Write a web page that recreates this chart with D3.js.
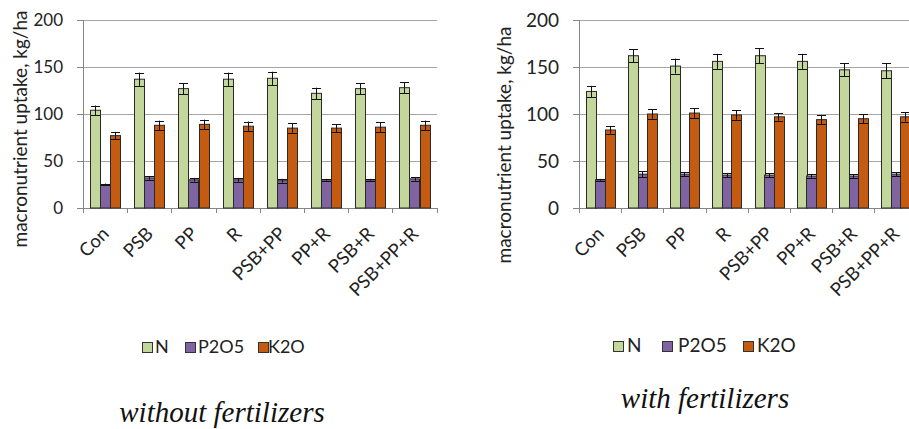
<!DOCTYPE html>
<meta charset="utf-8">
<style>
  body { margin: 0; background: #fff; }
  svg text { font-family: Lato, "Open Sans", sans-serif; fill: #222; }
  svg text.caption { font-family: "Liberation Serif", "Times New Roman", Times, serif; font-style: italic; fill: #111; }
  .grid line { stroke: #a6a6a6; shape-rendering: crispEdges; }
  .axis path, .axis line { stroke: #868686; shape-rendering: crispEdges; }
</style>
<body>
<svg width="909" height="429"></svg>
<script src="https://d3js.org/d3.v7.min.js"></script>
<script>
// treatments and nutrients
var categories = ["Con", "PSB", "PP", "R", "PSB+PP", "PP+R", "PSB+R", "PSB+PP+R"];
var nutrients = ["N", "P2O5", "K2O"];
var yTicks = [0, 50, 100, 150, 200];

// without fertilizers (kg/ha) and error bars
var withoutN = [104, 137, 127, 137, 138, 122, 127, 128];
var withoutNErr = [5, 7, 6, 7, 7, 6, 6, 6];
var withoutP = [25, 32, 30, 30, 29, 30, 30, 31];
var withoutPErr = [1, 2, 2, 2, 2, 1, 1, 2];
var withoutK = [77, 88, 89, 87, 85, 85, 86, 88];
var withoutKErr = [4, 5, 5, 5, 5, 4, 5, 5];

// with fertilizers
var withN = [124, 162, 151, 156, 162, 156, 147, 146];
var withNErr = [6, 7, 8, 8, 8, 8, 7, 8];
var withP = [30, 36, 36, 35, 35, 34, 34, 36];
var withPErr = [1, 3, 2, 2, 2, 2, 2, 2];
var withK = [83, 100, 101, 99, 97, 94, 95, 97];
var withKErr = [4, 5, 5, 5, 4, 5, 5, 5];

var colors = { "N": "#c3d69b", "P2O5": "#8064a2", "K2O": "#c55a11" };

var svg = d3.select("svg");

function drawChart(cfg, vals, errs) {
  var g = svg.append("g");
  var y = d3.scaleLinear().domain([0, 200]).range([208, 20]);
  var x0 = d3.scaleBand().domain(categories)
      .range([cfg.left, cfg.left + cfg.step * categories.length])
      .paddingInner(0.32).paddingOuter(0.16);
  var x1 = d3.scaleBand().domain(nutrients).range([0, x0.bandwidth()]);

  // gridlines
  g.append("g").attr("class", "grid")
    .selectAll("line").data(yTicks.slice(1)).enter().append("line")
      .attr("x1", cfg.left).attr("x2", cfg.left + cfg.step * categories.length)
      .attr("y1", function(d) { return Math.round(y(d)) + 0.5; })
      .attr("y2", function(d) { return Math.round(y(d)) + 0.5; });

  // y axis
  var yAxis = g.append("g").attr("class", "axis")
    .attr("transform", "translate(" + cfg.left + ",0)")
    .call(d3.axisLeft(y).tickValues(yTicks).tickSize(6).tickPadding(cfg.tickPad));
  yAxis.select(".domain").attr("d", "M0.5," + y(200) + "V" + y(0));
  yAxis.selectAll("text").style("font-size", cfg.tickFont + "px").attr("fill", "#222");

  // x axis with ticks between groups
  var xEdges = d3.range(categories.length + 1).map(function(i) { return cfg.left + i * cfg.step; });
  var xa = g.append("g").attr("class", "axis");
  xa.append("line").attr("x1", cfg.left).attr("x2", cfg.left + cfg.step * categories.length)
    .attr("y1", y(0) + 0.5).attr("y2", y(0) + 0.5);
  xa.selectAll(".tk").data(xEdges).enter().append("line").attr("class", "tk")
    .attr("x1", function(d) { return Math.round(d) + 0.5; })
    .attr("x2", function(d) { return Math.round(d) + 0.5; })
    .attr("y1", y(0)).attr("y2", y(0) + 5);

  xa.selectAll(".lbl").data(categories).enter().append("text").attr("class", "lbl")
    .attr("transform", function(d) {
      return "translate(" + (x0(d) + x0.bandwidth() / 2 + cfg.lblDx) + "," + cfg.lblY + ") rotate(-45)";
    })
    .attr("text-anchor", "end")
    .style("font-size", cfg.lblFont + "px")
    .text(function(d) { return d; });

  // bars
  var rows = [];
  nutrients.forEach(function(n, k) {
    categories.forEach(function(c, i) {
      rows.push({ cat: c, nut: n, v: vals[k][i], e: errs[k][i] });
    });
  });

  g.selectAll(".bar").data(rows).enter().append("rect").attr("class", "bar")
    .attr("x", function(d) { return Math.round(x0(d.cat) + x1(d.nut)) + 0.5; })
    .attr("width", Math.round(x1.bandwidth()))
    .attr("y", function(d) { return y(d.v); })
    .attr("height", function(d) { return y(0) - y(d.v); })
    .attr("fill", function(d) { return colors[d.nut]; })
    .attr("stroke", "#2a2a2a").attr("stroke-width", 1);

  // error bars
  var eb = g.selectAll(".err").data(rows).enter().append("g").attr("class", "err")
    .attr("stroke", "#111").attr("stroke-width", 1);
  var cx = function(d) { return Math.round(x0(d.cat) + x1(d.nut) + x1.bandwidth() / 2) + 0.5; };
  eb.append("line").attr("x1", cx).attr("x2", cx)
    .attr("y1", function(d) { return y(d.v + d.e); })
    .attr("y2", function(d) { return y(d.v - d.e); });
  [1, -1].forEach(function(s) {
    eb.append("line")
      .attr("x1", function(d) { return cx(d) - cfg.cap; })
      .attr("x2", function(d) { return cx(d) + cfg.cap; })
      .attr("y1", function(d) { return Math.round(y(d.v + s * d.e)) + 0.5; })
      .attr("y2", function(d) { return Math.round(y(d.v + s * d.e)) + 0.5; });
  });

  // y axis title
  g.append("text")
    .attr("transform", "translate(" + cfg.titleX + "," + cfg.titleY + ") rotate(-90)")
    .attr("text-anchor", "middle")
    .style("font-size", cfg.titleFont + "px")
    .text("macronutrient uptake, kg/ha");

  // legend
  var lg = g.append("g");
  cfg.legend.forEach(function(p, i) {
    lg.append("rect").attr("x", p[0] + 0.5).attr("y", cfg.legY + 0.5)
      .attr("width", cfg.box).attr("height", cfg.box)
      .attr("fill", colors[nutrients[i]]).attr("stroke", "#333");
    lg.append("text").attr("x", p[1]).attr("y", cfg.legY + cfg.box + 1)
      .style("font-size", cfg.legFont + "px")
      .text(nutrients[i]);
  });

  // caption
  g.append("text").attr("class", "caption")
    .attr("x", cfg.capX).attr("y", cfg.capY)
    .attr("text-anchor", "middle")
    .style("font-size", cfg.capFont + "px")
    .text(cfg.caption);
}

drawChart({
  left: 83, step: 44.2, tickPad: 14, tickFont: 17, lblFont: 18.5, lblDx: 5, lblY: 235, cap: 4.5,
  titleX: 27, titleY: 129, titleFont: 19,
  legY: 342, box: 10, legFont: 18, legend: [[142, 155], [185, 198], [258, 268]],
  capX: 222, capY: 422, capFont: 29, caption: "without fertilizers"
}, [withoutN, withoutP, withoutK], [withoutNErr, withoutPErr, withoutKErr]);

drawChart({
  left: 579, step: 42.2, tickPad: 14, tickFont: 19, lblFont: 18.5, lblDx: 5, lblY: 235, cap: 4.5,
  titleX: 511, titleY: 145, titleFont: 19,
  legY: 341, box: 10, legFont: 19, legend: [[613, 627], [662, 678], [743, 757]],
  capX: 705, capY: 408, capFont: 29, caption: "with fertilizers"
}, [withN, withP, withK], [withNErr, withPErr, withKErr]);
</script>
</body>
